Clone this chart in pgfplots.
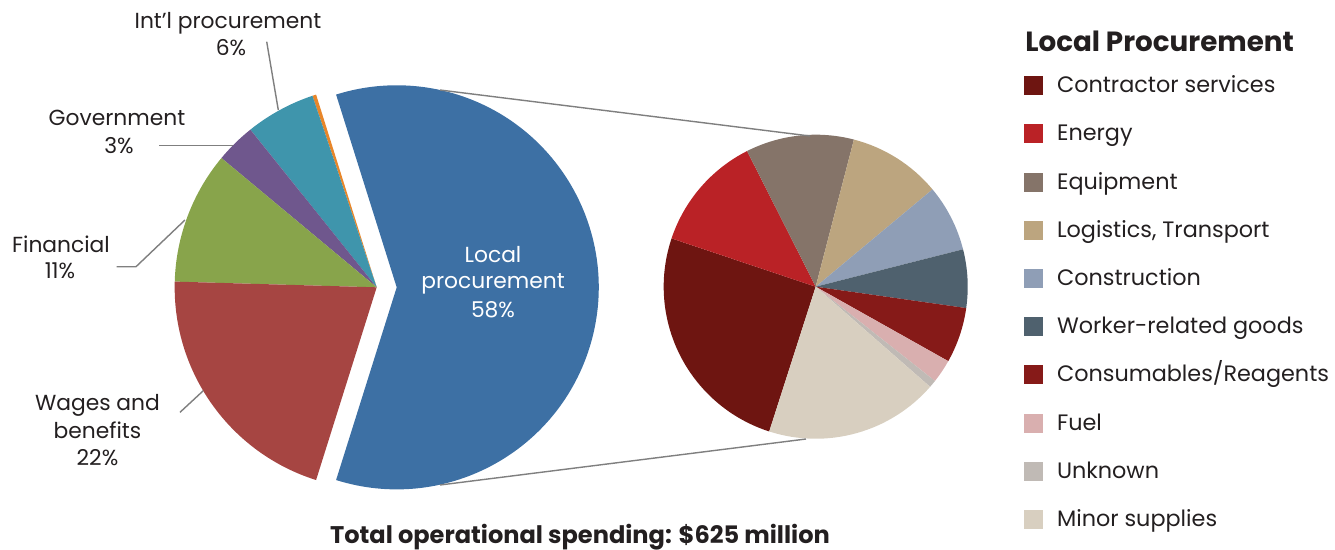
\documentclass[border=0pt]{standalone}
\usepackage{fontspec}
\setmainfont{Poppins}
\usepackage{pgfplots}
\usepackage{pgfplotstable}
\pgfplotsset{compat=1.18}

% main pie colours
\definecolor{cLocal}{HTML}{3D70A4}
\definecolor{cOther}{HTML}{E8862A}
\definecolor{cIntl}{HTML}{3F95AC}
\definecolor{cGov}{HTML}{6F578D}
\definecolor{cFin}{HTML}{88A44B}
\definecolor{cWage}{HTML}{A64542}
% local procurement colours
\definecolor{sContr}{HTML}{6E1511}
\definecolor{sEnergy}{HTML}{BA2226}
\definecolor{sEquip}{HTML}{857469}
\definecolor{sLogi}{HTML}{BCA57F}
\definecolor{sConstr}{HTML}{8F9EB6}
\definecolor{sWorker}{HTML}{4F616E}
\definecolor{sConsum}{HTML}{861A18}
\definecolor{sFuel}{HTML}{D9AFAF}
\definecolor{sUnknown}{HTML}{C0BAB5}
\definecolor{sMinor}{HTML}{D8CFC0}
\definecolor{txt}{HTML}{231F20}
\definecolor{lead}{HTML}{7F7F7F}

% share of total spending (%), counter-clockwise from the bottom of the local slice
\pgfplotstableread[col sep=semicolon]{
name;value;dx;color
Local procurement;59.7;20;cLocal
Other;0.3;0;cOther
Int'l procurement;5.6;0;cIntl
Government;3.2;0;cGov
Financial;10.6;0;cFin
Wages and benefits;20.6;0;cWage
}\maintable

% share of local procurement (%), clockwise
\pgfplotstableread[col sep=semicolon]{
name;value;dx;color
Contractor services;25.2;0;sContr
Energy;12.4;0;sEnergy
Equipment;11.5;0;sEquip
Logistics, Transport;9.9;0;sLogi
Construction;7.1;0;sConstr
Worker-related goods;6.2;0;sWorker
Consumables/Reagents;5.9;0;sConsum
Fuel;2.5;0;sFuel
Unknown;0.8;0;sUnknown
Minor supplies;18.5;0;sMinor
}\localtable

% #1 table, #2 cx, #3 cy, #4 radius, #5 start angle, #6 direction (1 ccw, -1 cw)
\newcommand\drawpie[6]{%
  \pgfplotstablegetrowsof{#1}%
  \pgfmathtruncatemacro\lastrow{\pgfplotsretval-1}%
  \pgfmathsetlengthmacro\rad{#4*0.02cm}%
  \xdef\curang{#5}%
  \pgfplotsforeachungrouped \i in {0,...,\lastrow}{%
    \pgfplotstablegetelem{\i}{value}\of{#1}\let\val\pgfplotsretval
    \pgfplotstablegetelem{\i}{dx}\of{#1}\let\ddx\pgfplotsretval
    \pgfplotstablegetelem{\i}{color}\of{#1}\let\col\pgfplotsretval
    \pgfmathsetmacro\nextang{\curang+(#6)*3.6*\val}%
    \pgfmathsetmacro\cx{#2+\ddx}%
    \edef\temp{\noexpand\fill[\col] (axis cs:\cx,#3) -- ++(\curang:\rad)
      arc[start angle=\curang, end angle=\nextang, radius=\rad] -- cycle;}%
    \temp
    \xdef\curang{\nextang}%
  }%
}

\newcommand\lbl[3]{\node[anchor=base, text=txt] at (axis cs:#1,#2) {#3};}

\begin{document}
\begin{tikzpicture}[font=\fontsize{12.4}{14}\selectfont, every node/.style={inner sep=0pt}]
\begin{axis}[
  scale only axis,
  width=26.7cm, height=11cm,
  xmin=0, xmax=1335, ymin=0, ymax=550,
  y dir=reverse,
  hide axis, clip=false,
]
  \drawpie{\maintable}{376.7}{287.3}{202}{-107.46}{1}
  \drawpie{\localtable}{815.7}{286.7}{152}{252.2}{-1}

  % connector lines
  \draw[lead, line width=0.8pt] (axis cs:440,90) -- (axis cs:810,136);
  \draw[lead, line width=0.8pt] (axis cs:440,485) -- (axis cs:806,439);

  % leader lines
  \draw[lead, line width=0.8pt] (axis cs:266.7,41.7) -- (axis cs:278.3,110);
  \draw[lead, line width=0.8pt] (axis cs:159.3,145.7) -- (axis cs:233.3,145.7);
  \draw[lead, line width=0.8pt] (axis cs:116.7,266.7) -- (axis cs:136,266.7) -- (axis cs:185,220);
  \draw[lead, line width=0.8pt] (axis cs:180,412.3) -- (axis cs:203.3,390.7);

  % slice labels
  \lbl{228}{28}{Int’l procurement}
  \lbl{231}{55}{6\%}
  \lbl{117}{125}{Government}
  \lbl{119}{153}{3\%}
  \lbl{61}{252}{Financial}
  \lbl{60}{278}{11\%}
  \lbl{97.5}{410}{Wages and}
  \lbl{97.5}{438}{benefits}
  \lbl{97.5}{465}{22\%}
  \node[anchor=base, text=white] at (axis cs:493,262) {Local};
  \node[anchor=base, text=white] at (axis cs:493,288) {procurement};
  \node[anchor=base, text=white] at (axis cs:493,317) {58\%};

  % titles
  \node[anchor=base, text=txt, font=\fontsize{13.7}{16}\selectfont\bfseries] at (axis cs:580,543) {Total operational spending: \$625 million};
  \node[anchor=base west, text=txt, font=\fontsize{15.8}{18}\selectfont\bfseries] at (axis cs:1025,51) {Local Procurement};

  % legend of the local procurement pie
  \pgfplotsforeachungrouped \i in {0,...,9}{%
    \pgfplotstablegetelem{\i}{name}\of{\localtable}\let\nm\pgfplotsretval
    \pgfplotstablegetelem{\i}{color}\of{\localtable}\let\col\pgfplotsretval
    \pgfmathsetmacro\ya{85.7+48.2*\i-9.5}%
    \pgfmathsetmacro\yb{85.7+48.2*\i+9.5}%
    \pgfmathsetmacro\yt{85.7+48.2*\i+7}%
    \edef\temp{\noexpand\fill[\col] (axis cs:1024,\ya) rectangle (axis cs:1043,\yb);
      \noexpand\node[anchor=base west, text=txt, font=\noexpand\fontsize{12.7}{14}\noexpand\selectfont] at (axis cs:1056.7,\yt) {\nm};}%
    \temp
  }
\end{axis}
\pgfresetboundingbox
\path[use as bounding box] (current axis.south west) rectangle (current axis.north east);
\end{tikzpicture}
\end{document}
